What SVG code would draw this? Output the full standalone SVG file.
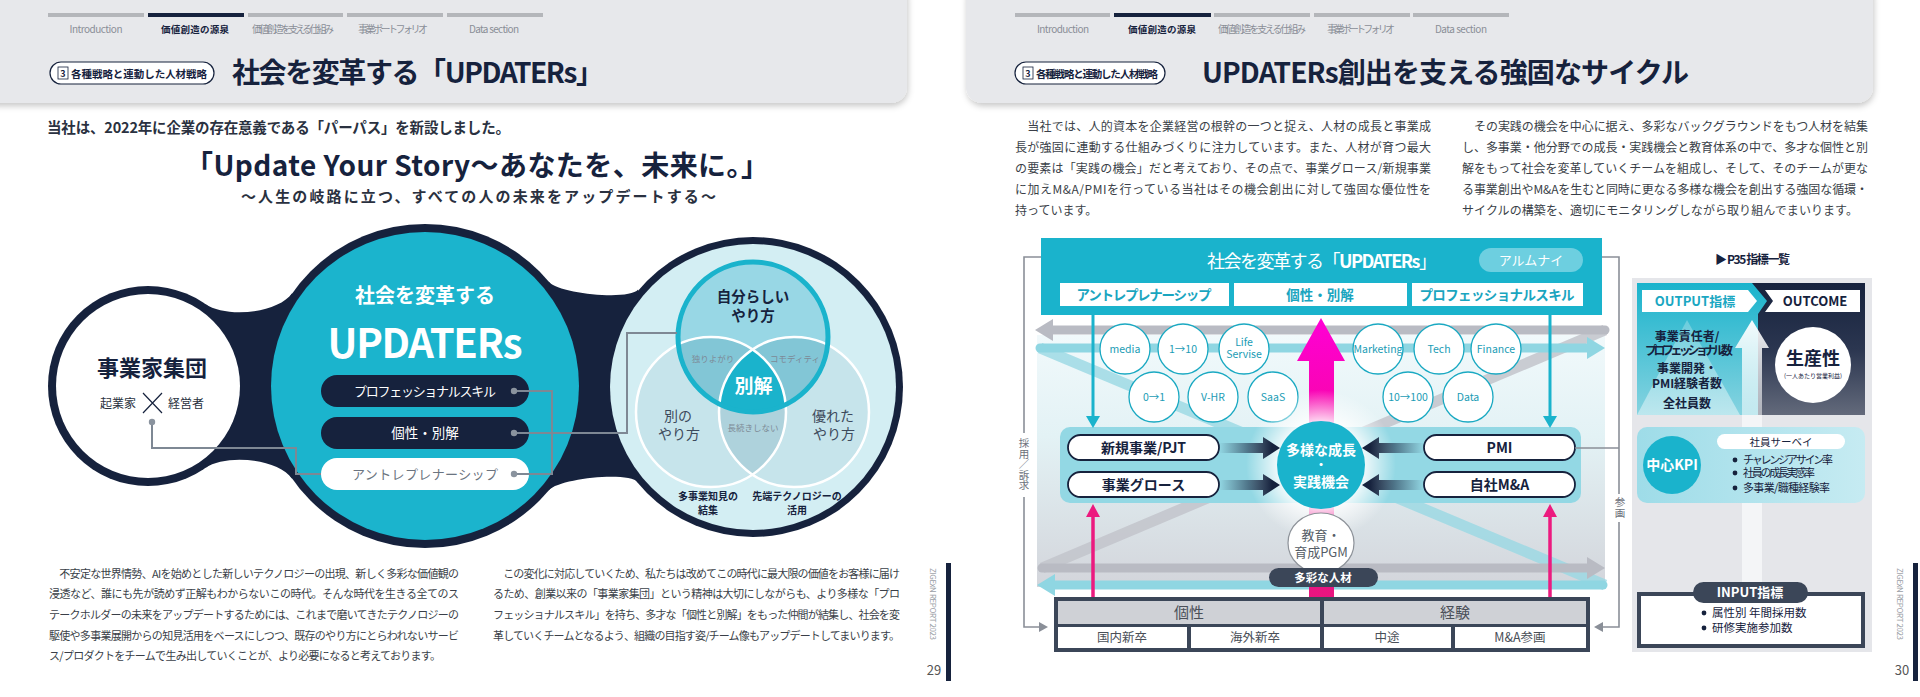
<svg xmlns="http://www.w3.org/2000/svg" width="1920" height="697" viewBox="0 0 1920 697">
<defs>
<style>
.t{font-family:"Noto Sans CJK JP","Noto Sans",sans-serif}
.b{font-weight:700}
.m{text-anchor:middle}
.nv{fill:#16223d}
.tab{font-size:10px;fill:#8a8e97}
.body{font-size:11px;fill:#3a3f48}
.rbody{font-size:12px;fill:#3a3f48}
.cs{fill:#fff;stroke:#1aa9c2;stroke-width:1.3}
.ct{font-size:10.5px;fill:#1a9cb5;text-anchor:middle}
.conn{fill:none;stroke:#7e8894;stroke-width:2}
.br{fill:none;stroke:#8a8f98;stroke-width:1.6}
.pill{fill:#fff;stroke:#16223d;stroke-width:1.8}
.small{font-size:8.5px;fill:#7d8a96;text-anchor:middle}
.vt{font-size:14px;fill:#3d4a5c;text-anchor:middle}
.bul{fill:#16223d}
.vert{font-size:10.5px;fill:#6b707a;writing-mode:tb;glyph-orientation-vertical:0}
</style>
<filter id="sh" x="-5%" y="-30%" width="110%" height="170%"><feDropShadow dx="1" dy="3" stdDeviation="3" flood-color="#000" flood-opacity="0.22"/></filter>
<linearGradient id="gMag" gradientUnits="userSpaceOnUse" x1="0" y1="320" x2="0" y2="597"><stop offset="0" stop-color="#ff00d4"/><stop offset="0.45" stop-color="#f5089f"/><stop offset="1" stop-color="#e8157f"/></linearGradient>
<linearGradient id="gBg" gradientUnits="userSpaceOnUse" x1="0" y1="335" x2="0" y2="587"><stop offset="0" stop-color="#f1f9fb"/><stop offset="0.4" stop-color="#e3f2f5"/><stop offset="1" stop-color="#d3d5db"/></linearGradient>
<linearGradient id="gArL" gradientUnits="userSpaceOnUse" x1="1219" y1="0" x2="1272" y2="0"><stop offset="0" stop-color="#16223d" stop-opacity="0"/><stop offset="1" stop-color="#16223d"/></linearGradient>
<linearGradient id="gArR" gradientUnits="userSpaceOnUse" x1="1424" y1="0" x2="1370" y2="0"><stop offset="0" stop-color="#16223d" stop-opacity="0"/><stop offset="1" stop-color="#16223d"/></linearGradient>
<radialGradient id="gGlow"><stop offset="0.55" stop-color="#fff" stop-opacity="0.9"/><stop offset="1" stop-color="#fff" stop-opacity="0"/></radialGradient>
<linearGradient id="gTealBlk" x1="0" y1="0" x2="0" y2="1"><stop offset="0" stop-color="#1ab3cc"/><stop offset="1" stop-color="#86d3e0"/></linearGradient>
<linearGradient id="gNavyBlk" x1="0" y1="0" x2="0" y2="1"><stop offset="0" stop-color="#16223d"/><stop offset="0.5" stop-color="#2b3650"/><stop offset="1" stop-color="#636a7b"/></linearGradient>
<linearGradient id="gPyr" x1="0" y1="0" x2="0" y2="1"><stop offset="0" stop-color="#fff" stop-opacity="0.25"/><stop offset="1" stop-color="#fff" stop-opacity="0.45"/></linearGradient>
<linearGradient id="gUp" x1="0" y1="0" x2="0" y2="1"><stop offset="0" stop-color="#fff" stop-opacity="0.95"/><stop offset="1" stop-color="#fff" stop-opacity="0.5"/></linearGradient>
<linearGradient id="gKpi" x1="0" y1="0" x2="1" y2="0"><stop offset="0" stop-color="#9edce8"/><stop offset="1" stop-color="#c6ebf2"/></linearGradient>
<clipPath id="cBL"><circle cx="711" cy="412" r="75"/></clipPath>
<clipPath id="cBR"><circle cx="794" cy="412" r="75"/></clipPath>
</defs>

<rect width="1920" height="697" fill="#fff"/>

<!-- ===== LEFT PAGE HEADER ===== -->
<g id="header-left">
<rect x="-20" y="-20" width="927" height="123" rx="16" fill="#e7e8eb" filter="url(#sh)"/>
<rect x="48" y="13" width="96" height="4" fill="#b4b6ba"/>
<rect x="148" y="13" width="96" height="4" fill="#16223d"/>
<rect x="248" y="13" width="95" height="4" fill="#b4b6ba"/>
<rect x="347" y="13" width="96" height="4" fill="#b4b6ba"/>
<rect x="447" y="13" width="96" height="4" fill="#b4b6ba"/>
<text class="t tab m" x="96" y="33" textLength="53">Introduction</text>
<text class="t b m" x="195" y="33" font-size="9.5" fill="#16223d" textLength="68">価値創造の源泉</text>
<text class="t tab m" x="293" y="33" font-size="8" textLength="82">価値創造を支える仕組み</text>
<text class="t tab m" x="393" y="33" font-size="8" textLength="70">事業ポートフォリオ</text>
<text class="t tab m" x="494" y="33" textLength="50">Data section</text>
<rect x="50" y="62" width="164" height="22" rx="11" fill="#fff" stroke="#16223d" stroke-width="1.2"/>
<rect x="58" y="67" width="10" height="12" fill="none" stroke="#16223d" stroke-width="0.8"/>
<text class="t b m nv" x="63" y="77" font-size="9">3</text>
<text class="t b nv" x="71" y="77.5" font-size="10.5" textLength="136">各種戦略と連動した人材戦略</text>
<text class="t b nv" x="232" y="83" font-size="28" textLength="372">社会を変革する「UPDATERs」</text>
</g>

<!-- ===== RIGHT PAGE HEADER ===== -->
<g id="header-right">
<rect x="966" y="-20" width="907" height="123" rx="16" fill="#e7e8eb" filter="url(#sh)"/>
<rect x="1015" y="13" width="95" height="4" fill="#b4b6ba"/>
<rect x="1114" y="13" width="97" height="4" fill="#16223d"/>
<rect x="1214" y="13" width="96" height="4" fill="#b4b6ba"/>
<rect x="1314" y="13" width="96" height="4" fill="#b4b6ba"/>
<rect x="1413" y="13" width="96" height="4" fill="#b4b6ba"/>
<text class="t tab m" x="1063" y="33" textLength="52">Introduction</text>
<text class="t b m" x="1162" y="33" font-size="9.5" fill="#16223d" textLength="68">価値創造の源泉</text>
<text class="t tab m" x="1262" y="33" font-size="8" textLength="88">価値創造を支える仕組み</text>
<text class="t tab m" x="1361" y="33" font-size="8" textLength="68">事業ポートフォリオ</text>
<text class="t tab m" x="1461" y="33" textLength="52">Data section</text>
<rect x="1015" y="62" width="150" height="22" rx="11" fill="#fff" stroke="#16223d" stroke-width="1.2"/>
<rect x="1023" y="67" width="10" height="12" fill="none" stroke="#16223d" stroke-width="0.8"/>
<text class="t b m nv" x="1028" y="77" font-size="9">3</text>
<text class="t b nv" x="1036" y="77.5" font-size="10.5" textLength="122">各種戦略と連動した人材戦略</text>
<text class="t b nv" x="1202" y="83" font-size="28" textLength="487">UPDATERs創出を支える強固なサイクル</text>
</g>

<!-- ===== LEFT PAGE INTRO ===== -->
<g id="intro-left">
<text class="t b" x="47" y="133" font-size="14.5" fill="#2a3140" textLength="463">当社は、2022年に企業の存在意義である「パーパス」を新設しました。</text>
<text class="t b" x="185" y="176" font-size="28" fill="#16223d" textLength="584">「Update Your Story～あなたを、未来に。」</text>
<text class="t b" x="241" y="202" font-size="15" fill="#2a3140" textLength="475">～人生の岐路に立つ、すべての人の未来をアップデートする～</text>
</g>

<!-- ===== LEFT BIG GRAPHIC ===== -->
<g id="blob">
<circle cx="148" cy="386" r="100" fill="#16223d"/>
<circle cx="425" cy="386" r="162" fill="#16223d"/>
<circle cx="753" cy="387" r="150" fill="#16223d"/>
<path d="M205.4,304.1 C225.9,318.5 278,313.6 292.3,293.1 L292.3,478.9 C278,458.4 225.9,453.5 205.4,467.9 Z" fill="#16223d"/>
<path d="M549.1,281.9 C558.7,293.4 628.5,301.1 638.1,289.6 L638.1,482.4 C628.5,470.9 558.7,478.6 549.1,490.1 Z" fill="#16223d"/>
</g>

<g id="node-jigyoka">
<circle cx="148" cy="386" r="92" fill="#fff"/>
<text class="t b m nv" x="152" y="376" font-size="22">事業家集団</text>
<text class="t m" x="118" y="408" font-size="12" fill="#2a3140">起業家</text>
<text class="t m" x="186" y="408" font-size="12" fill="#2a3140">経営者</text>
<path d="M143,393 L162,413 M162,393 L143,413" stroke="#16223d" stroke-width="1.2"/>
</g>

<g id="node-updaters">
<circle cx="425" cy="386" r="154" fill="#1bb4cd"/>
<text class="t b m" x="425" y="303" font-size="20" fill="#fff">社会を変革する</text>
<text class="t b m" x="425" y="358" font-size="40" fill="#fff" textLength="195">UPDATERs</text>
<rect x="321" y="375" width="208" height="32" rx="16" fill="#16223d"/>
<text class="t m" x="425" y="396" font-size="13" fill="#fff" textLength="142">プロフェッショナルスキル</text>
<rect x="321" y="417" width="208" height="32" rx="16" fill="#16223d"/>
<text class="t m" x="425" y="438" font-size="13.5" fill="#fff">個性・別解</text>
<rect x="321" y="458" width="208" height="32" rx="16" fill="#fff"/>
<text class="t m" x="425" y="479" font-size="13" fill="#6b7480" textLength="146">アントレプレナーシップ</text>
</g>

<g id="node-venn">
<circle cx="753" cy="387" r="143" fill="#d3eef3"/>
<circle cx="711" cy="412" r="75" fill="#c6e4eb"/>
<circle cx="794" cy="412" r="75" fill="#c6e4eb"/>
<circle cx="794" cy="412" r="75" fill="#aed2dc" clip-path="url(#cBL)"/>
<circle cx="753" cy="337" r="75" fill="#98d7e5"/>
<circle cx="753" cy="337" r="75" fill="#82c6d6" clip-path="url(#cBL)"/>
<circle cx="753" cy="337" r="75" fill="#82c6d6" clip-path="url(#cBR)"/>
<g clip-path="url(#cBR)"><circle cx="753" cy="337" r="75" fill="#1ab3cc" clip-path="url(#cBL)"/></g>
<circle cx="711" cy="412" r="75" fill="none" stroke="#fff" stroke-width="2.5"/>
<circle cx="794" cy="412" r="75" fill="none" stroke="#fff" stroke-width="2.5"/>
<circle cx="753" cy="337" r="75" fill="none" stroke="#1ab3cc" stroke-width="5"/>
<text class="t b m nv" x="753" y="302" font-size="14.5">自分らしい</text>
<text class="t b m nv" x="753" y="321" font-size="14.5">やり方</text>
<text class="t small" x="713" y="362">独りよがり</text>
<text class="t small" x="795" y="362">コモディティ</text>
<text class="t b m" x="753.5" y="393" font-size="19" fill="#fff">別解</text>
<text class="t small" x="753" y="431">長続きしない</text>
<text class="t vt" x="678" y="421">別の</text>
<text class="t vt" x="679" y="439">やり方</text>
<text class="t vt" x="833" y="421">優れた</text>
<text class="t vt" x="834" y="439">やり方</text>
<text class="t b m nv" x="708" y="500" font-size="10">多事業知見の</text>
<text class="t b m nv" x="708" y="514" font-size="10">結集</text>
<text class="t b m nv" x="797" y="500" font-size="10">先端テクノロジーの</text>
<text class="t b m nv" x="797" y="514" font-size="10">活用</text>
</g>

<g id="connectors-left">
<path class="conn" d="M514,391 H552 V474 H514"/>
<path class="conn" d="M514,433 H627 V333 H677"/>
<path class="conn" d="M152,422 V448 H296 V474 H321"/>
<circle cx="514" cy="391" r="3.2" fill="#8a939e"/>
<circle cx="514" cy="433" r="3.2" fill="#8a939e"/>
<circle cx="514" cy="474" r="3.2" fill="#8a939e"/>
<circle cx="152" cy="422" r="3.2" fill="#8a939e"/>
</g>

<!-- ===== LEFT PAGE BODY ===== -->
<g id="body-left" class="t body">
<text x="49" y="578" textLength="410">　不安定な世界情勢、AIを始めとした新しいテクノロジーの出現、新しく多彩な価値観の</text>
<text x="49" y="598" textLength="410">浸透など、誰にも先が読めず正解もわからないこの時代。そんな時代を生きる全てのス</text>
<text x="49" y="619" textLength="410">テークホルダーの未来をアップデートするためには、これまで磨いてきたテクノロジーの</text>
<text x="49" y="640" textLength="410">駆使や多事業展開からの知見活用をベースにしつつ、既存のやり方にとらわれないサービ</text>
<text x="49" y="660" textLength="392">ス/プロダクトをチームで生み出していくことが、より必要になると考えております。</text>
<text x="493" y="578" textLength="407">　この変化に対応していくため、私たちは改めてこの時代に最大限の価値をお客様に届け</text>
<text x="493" y="598" textLength="407">るため、創業以来の「事業家集団」という精神は大切にしながらも、より多様な「プロ</text>
<text x="493" y="619" textLength="407">フェッショナルスキル」を持ち、多才な「個性と別解」をもった仲間が結集し、社会を変</text>
<text x="493" y="640" textLength="407">革していくチームとなるよう、組織の目指す姿/チーム像もアップデートしてまいります。</text>
</g>
<g id="folio-left">
<text class="t" transform="translate(930,568) rotate(90)" font-size="8" fill="#9a9ea6" textLength="72">ZIGExN REPORT 2023</text>
<text class="t m" x="934" y="675" font-size="13" fill="#555">29</text>
<rect x="946" y="563" width="5" height="118" fill="#16223d"/>
</g>

<!-- ===== RIGHT PAGE BODY ===== -->
<g id="body-right" class="t rbody">
<text x="1015" y="131" textLength="416">　当社では、人的資本を企業経営の根幹の一つと捉え、人材の成長と事業成</text>
<text x="1015" y="152" textLength="416">長が強固に連動する仕組みづくりに注力しています。また、人材が育つ最大</text>
<text x="1015" y="173" textLength="416">の要素は「実践の機会」だと考えており、その点で、事業グロース/新規事業</text>
<text x="1015" y="194" textLength="416">に加えM&amp;A/PMIを行っている当社はその機会創出に対して強固な優位性を</text>
<text x="1015" y="215">持っています。</text>
<text x="1462" y="131" textLength="406">　その実践の機会を中心に据え、多彩なバックグラウンドをもつ人材を結集</text>
<text x="1462" y="152" textLength="406">し、多事業・他分野での成長・実践機会と教育体系の中で、多才な個性と別</text>
<text x="1462" y="173" textLength="406">解をもって社会を変革していくチームを組成し、そして、そのチームが更な</text>
<text x="1462" y="194" textLength="406">る事業創出やM&amp;Aを生むと同時に更なる多様な機会を創出する強固な循環・</text>
<text x="1462" y="215" textLength="396">サイクルの構築を、適切にモニタリングしながら取り組んでまいります。</text>
</g>

<!-- ===== RIGHT DIAGRAM ===== -->
<g id="cycle-background">
<rect x="1037" y="335" width="568" height="252" fill="url(#gBg)"/>
<line x1="1605" y1="330" x2="1042" y2="568" stroke="#c3c5cc" stroke-width="11" opacity="0.85"/>
<line x1="1040" y1="348" x2="1605" y2="585" stroke="#9ad9e4" stroke-width="11" opacity="0.8"/>
<line x1="1605" y1="330" x2="1050" y2="330" stroke="#b9bbc3" stroke-width="9" stroke-linecap="round"/>
<polygon points="1035,330 1053,319 1053,341" fill="#b9bbc3"/>
<line x1="1040" y1="348" x2="1590" y2="348" stroke="#8fd6e2" stroke-width="9" stroke-linecap="round"/>
<polygon points="1605,348 1587,337 1587,359" fill="#8fd6e2"/>
<line x1="1042" y1="568" x2="1590" y2="568" stroke="#b9bbc3" stroke-width="9" stroke-linecap="round"/>
<polygon points="1605,568 1587,557 1587,579" fill="#b9bbc3"/>
<line x1="1603" y1="585" x2="1052" y2="585" stroke="#8fd6e2" stroke-width="9" stroke-linecap="round"/>
<polygon points="1037,585 1055,574 1055,596" fill="#8fd6e2"/>
</g>

<g id="node-updaters-box">
<rect x="1041" y="238" width="561" height="77" fill="#1ab3cc"/>
<text class="t m" x="1322" y="268" font-size="18" fill="#fff" textLength="230">社会を変革する「<tspan font-weight="700">UPDATERs</tspan>」</text>
<rect x="1479" y="248" width="104" height="24" rx="12" fill="#6dcfe0"/>
<text class="t m" x="1531" y="265" font-size="13" fill="#fff">アルムナイ</text>
<rect x="1060" y="283" width="169" height="23" fill="#fff"/>
<rect x="1234" y="283" width="173" height="23" fill="#fff"/>
<rect x="1412" y="283" width="171" height="23" fill="#fff"/>
<text class="t b m" x="1144" y="300" font-size="13.5" fill="#1aa5bf" textLength="135">アントレプレナーシップ</text>
<text class="t b m" x="1320" y="300" font-size="13.5" fill="#1aa5bf">個性・別解</text>
<text class="t b m" x="1497" y="300" font-size="13.5" fill="#1aa5bf" textLength="155">プロフェッショナルスキル</text>
</g>

<g id="business-circles" class="t">
<circle class="cs" cx="1125" cy="349" r="25"/><text class="ct" x="1125" y="353">media</text>
<circle class="cs" cx="1183" cy="349" r="25"/><text class="ct" x="1183" y="353">1→10</text>
<circle class="cs" cx="1244" cy="349" r="25"/><text class="ct" x="1244" y="346">Life</text><text class="ct" x="1244" y="358">Servise</text>
<circle class="cs" cx="1378" cy="349" r="25"/><text class="ct" x="1378" y="353" font-size="9.5px">Marketing</text>
<circle class="cs" cx="1439" cy="349" r="25"/><text class="ct" x="1439" y="353">Tech</text>
<circle class="cs" cx="1496" cy="349" r="25"/><text class="ct" x="1496" y="353">Finance</text>
<circle class="cs" cx="1154" cy="397" r="25"/><text class="ct" x="1154" y="401">0→1</text>
<circle class="cs" cx="1213" cy="397" r="25"/><text class="ct" x="1213" y="401">V-HR</text>
<circle class="cs" cx="1273" cy="397" r="25"/><text class="ct" x="1273" y="401">SaaS</text>
<circle class="cs" cx="1408" cy="397" r="25"/><text class="ct" x="1408" y="401">10→100</text>
<circle class="cs" cx="1468" cy="397" r="25"/><text class="ct" x="1468" y="401">Data</text>
</g>

<g id="growth-arrow">
<polygon points="1321,318 1345,361 1334,361 1334,597 1309,597 1309,361 1297,361" fill="url(#gMag)"/>
</g>

<g id="opportunity-band">
<rect x="1060" y="427" width="521" height="76" rx="10" fill="#93d8e4"/>
<circle cx="1321" cy="465" r="75" fill="url(#gGlow)"/>
</g>

<g id="node-shinki"><rect class="pill" x="1068" y="435" width="151" height="25" rx="12.5"/><text class="t b m nv" x="1143.5" y="452.5" font-size="14">新規事業/PJT</text></g>
<g id="node-growth"><rect class="pill" x="1068" y="472" width="151" height="25" rx="12.5"/><text class="t b m nv" x="1143.5" y="489.5" font-size="14">事業グロース</text></g>
<g id="node-pmi"><rect class="pill" x="1424" y="435" width="151" height="25" rx="12.5"/><text class="t b m nv" x="1499.5" y="452.5" font-size="14">PMI</text></g>
<g id="node-ma"><rect class="pill" x="1424" y="472" width="151" height="25" rx="12.5"/><text class="t b m nv" x="1499.5" y="489.5" font-size="14">自社M&amp;A</text></g>

<g id="connectors-right">
<polygon points="1219,443 1263,443 1263,437 1280,448 1263,459 1263,453 1219,453" fill="url(#gArL)"/>
<polygon points="1219,480 1263,480 1263,474 1280,485 1263,496 1263,490 1219,490" fill="url(#gArL)"/>
<polygon points="1424,443 1379,443 1379,437 1362,448 1379,459 1379,453 1424,453" fill="url(#gArR)"/>
<polygon points="1424,480 1379,480 1379,474 1362,485 1379,496 1379,490 1424,490" fill="url(#gArR)"/>
<line x1="1093" y1="315" x2="1093" y2="418" stroke="#1ab3cc" stroke-width="3"/>
<polygon points="1086,416 1100,416 1093,428" fill="#1ab3cc"/>
<line x1="1550" y1="315" x2="1550" y2="418" stroke="#1ab3cc" stroke-width="3"/>
<polygon points="1543,416 1557,416 1550,428" fill="#1ab3cc"/>
<line x1="1093" y1="597" x2="1093" y2="515" stroke="#ec1a7f" stroke-width="3.5"/>
<polygon points="1086,517 1100,517 1093,504" fill="#ec1a7f"/>
<line x1="1550" y1="597" x2="1550" y2="515" stroke="#ec1a7f" stroke-width="3.5"/>
<polygon points="1543,517 1557,517 1550,504" fill="#ec1a7f"/>
<path class="br" d="M1041,257 H1024 V433 M1024,497 V627 H1040"/>
<polygon points="1048,627 1039,622 1039,632" fill="#8a8f98"/>
<path class="br" d="M1602,257 H1619 V494 M1619,522 V627 H1603 M1575,448 H1619"/>
<polygon points="1594,627 1603,622 1603,632" fill="#8a8f98"/>
<text class="t vert" x="1024" y="438">採用／訴求</text>
<text class="t vert" x="1620" y="497">参画</text>
</g>

<g id="node-center">
<circle cx="1321" cy="465" r="44" fill="#1ab3cc"/>
<text class="t b m" x="1321" y="455" font-size="14" fill="#fff">多様な成長</text>
<text class="t b m" x="1321" y="470" font-size="12" fill="#fff">・</text>
<text class="t b m" x="1321" y="487" font-size="14" fill="#fff">実践機会</text>
</g>

<g id="node-edu">
<ellipse cx="1321" cy="543" rx="33" ry="30" fill="#fff" stroke="#8d9299" stroke-width="1.2"/>
<text class="t m" x="1321" y="540" font-size="13" fill="#555d66">教育・</text>
<text class="t m" x="1321" y="557" font-size="13" fill="#555d66">育成PGM</text>
</g>

<g id="node-talent">
<rect x="1269" y="568" width="109" height="19" rx="9.5" fill="#3b4658"/>
<text class="t b m" x="1323" y="582" font-size="11.5" fill="#fff">多彩な人材</text>
</g>

<g id="node-table">
<rect x="1054" y="597" width="536" height="55" fill="#3b4658"/>
<rect x="1058" y="601" width="262" height="23" fill="#cfd1d6"/>
<rect x="1324" y="601" width="262" height="23" fill="#cfd1d6"/>
<rect x="1058" y="627" width="129" height="21" fill="#fff"/>
<rect x="1191" y="627" width="129" height="21" fill="#fff"/>
<rect x="1324" y="627" width="127" height="21" fill="#fff"/>
<rect x="1455" y="627" width="131" height="21" fill="#fff"/>
<text class="t m" x="1189" y="618" font-size="15" fill="#4a4f58">個性</text>
<text class="t m" x="1455" y="618" font-size="15" fill="#4a4f58">経験</text>
<text class="t m" x="1122" y="642" font-size="12.5" fill="#4a4f58">国内新卒</text>
<text class="t m" x="1255" y="642" font-size="12.5" fill="#4a4f58">海外新卒</text>
<text class="t m" x="1387" y="642" font-size="12.5" fill="#4a4f58">中途</text>
<text class="t m" x="1520" y="642" font-size="12.5" fill="#4a4f58">M&amp;A参画</text>
</g>

<!-- ===== METRICS PANEL ===== -->
<g id="metrics-panel">
<text class="t b nv" x="1715" y="264" font-size="12" textLength="75">▶ P35 指標一覧</text>
<rect x="1632" y="278" width="240" height="374" fill="#e5e6ea"/>
<rect x="1742" y="340" width="20" height="250" fill="#f4f5f7"/>
<rect x="1750" y="283" width="115" height="132" fill="url(#gNavyBlk)"/>
<polygon points="1637,283 1752,283 1767,301 1758,314 1758,415 1637,415" fill="url(#gTealBlk)"/>
<polygon points="1687,320 1740,415 1637,415" fill="url(#gPyr)"/>
<polygon points="1752,320 1769,348 1762,348 1762,415 1742,415 1742,348 1735,348" fill="url(#gUp)"/>
<polygon points="1642,290 1748,290 1757,301 1748,312 1642,312" fill="#fff"/>
<polygon points="1765,290 1860,290 1860,312 1765,312 1773,301" fill="#fff"/>
<text class="t b m" x="1695" y="306" font-size="13" fill="#1aa7c2">OUTPUT指標</text>
<text class="t b m nv" x="1815" y="306" font-size="13">OUTCOME</text>
<g class="t b m nv" font-size="12">
<text x="1687" y="341">事業責任者/</text>
<text x="1689" y="355" textLength="88">プロフェッショナル数</text>
<text x="1687" y="373">事業開発・</text>
<text x="1687" y="388">PMI経験者数</text>
<text x="1687" y="408">全社員数</text>
</g>
<circle cx="1813" cy="365" r="38" fill="#fff"/>
<text class="t b m nv" x="1813" y="365" font-size="18">生産性</text>
<text class="t m nv" x="1813" y="378" font-size="6">(一人あたり営業利益)</text>
<rect x="1637" y="427" width="228" height="76" rx="10" fill="url(#gKpi)"/>
<circle cx="1672" cy="465" r="29" fill="#1ab3cc"/>
<text class="t b m" x="1672" y="470" font-size="14" fill="#fff">中心KPI</text>
<rect x="1717" y="434" width="128" height="15" rx="7.5" fill="#fff"/>
<text class="t m nv" x="1781" y="445.5" font-size="10.5">社員サーベイ</text>
<circle class="bul" cx="1735" cy="460" r="2.4"/>
<circle class="bul" cx="1735" cy="473" r="2.4"/>
<circle class="bul" cx="1735" cy="488" r="2.4"/>
<text class="t nv" x="1743" y="464" font-size="11" textLength="90">チャレンジアサイン率</text>
<text class="t nv" x="1743" y="477" font-size="11" textLength="72">社員の成長実感率</text>
<text class="t nv" x="1743" y="492" font-size="11" textLength="87">多事業/職種経験率</text>
<rect x="1639" y="594" width="224" height="52" fill="#fff" stroke="#3b4658" stroke-width="4"/>
<rect x="1693" y="582" width="115" height="21" rx="10.5" fill="#3b4658"/>
<text class="t b m" x="1750" y="597" font-size="13" fill="#fff">INPUT指標</text>
<circle class="bul" cx="1704" cy="613" r="2.4"/>
<circle class="bul" cx="1704" cy="628" r="2.4"/>
<text class="t nv" x="1712" y="617" font-size="11.5">属性別 年間採用数</text>
<text class="t nv" x="1712" y="632" font-size="11.5">研修実施参加数</text>
</g>

<g id="folio-right">
<text class="t" transform="translate(1897,568) rotate(90)" font-size="8" fill="#9a9ea6" textLength="72">ZIGExN REPORT 2023</text>
<text class="t m" x="1902" y="675" font-size="13" fill="#555">30</text>
<rect x="1913" y="563" width="5" height="118" fill="#16223d"/>
</g>
</svg>
